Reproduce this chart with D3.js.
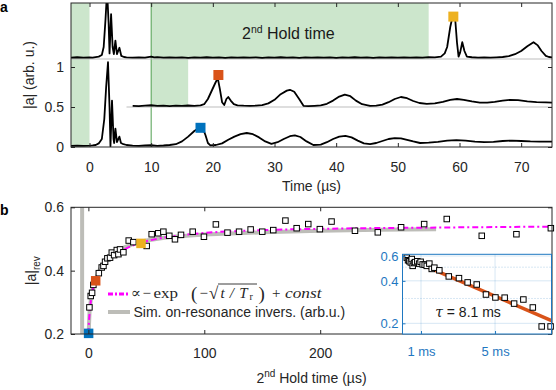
<!DOCTYPE html>
<html lang="en">
<head>
<meta charset="UTF-8">
<title>Revival amplitude vs 2nd hold time</title>
<script src="https://cdnjs.cloudflare.com/ajax/libs/d3/7.8.5/d3.min.js"></script>
<style>
  body { margin: 0; background: #fff; }
  svg { display: block; font-family: "Liberation Sans", Arial, sans-serif; }
  .math { font-family: "Liberation Serif", "DejaVu Serif", serif; font-size: 15px; fill: #262626; }
</style>
</head>
<body>
<svg id="chart" width="556" height="390"></svg>
<script>
// ---------- panel a data: echo traces [time (µs), |a|] ----------
const traceTop = [[-3,1.118],[-2,1.122],[-1,1.116],[0,1.121],[0.5,1.117],[1,1.124],[1.5,1.13],[2,1.15],[2.3,1.25],[2.6,1.6],[2.85,1.95],[3.1,1.55],[3.25,1.17],[3.5,1.66],[3.75,1.25],[3.95,1.16],[4.2,1.33],[4.45,1.16],[4.85,1.24],[5.15,1.14],[5.6,1.125],[6,1.12],[7,1.117],[8,1.121],[9,1.116],[10,1.13],[10.5,1.12],[11,1.123],[12,1.117],[13,1.121],[14,1.116],[15,1.12],[16,1.115],[17,1.121],[18,1.117],[19,1.122],[20,1.116],[21,1.12],[22,1.115],[23,1.121],[24,1.117],[25,1.12],[26,1.116],[27,1.121],[28,1.115],[29,1.12],[30,1.117],[31,1.122],[32,1.116],[33,1.12],[34,1.115],[35,1.121],[36,1.117],[37,1.12],[38,1.116],[39,1.121],[40,1.115],[41,1.12],[42,1.117],[43,1.122],[44,1.116],[45,1.12],[46,1.115],[47,1.121],[48,1.117],[49,1.12],[50,1.116],[51,1.121],[52,1.117],[53,1.12],[54,1.118],[55,1.123],[56,1.12],[57,1.13],[57.6,1.17],[58,1.25],[58.5,1.5],[58.9,1.64],[59.3,1.6],[59.6,1.3],[59.85,1.13],[60.1,1.18],[60.45,1.31],[60.8,1.2],[61.2,1.13],[62,1.122],[63,1.118],[64,1.12],[65,1.117],[66,1.121],[67,1.125],[68,1.135],[69,1.16],[70,1.2],[71,1.26],[72,1.31],[72.7,1.27],[73.3,1.2],[74,1.14],[74.5,1.125],[75,1.12]];
const traceMid = [[7,0.515],[8,0.512],[9,0.517],[10,0.522],[11,0.514],[12,0.518],[13,0.512],[14,0.517],[15,0.513],[16,0.519],[17,0.515],[18,0.52],[18.6,0.535],[19.2,0.6],[19.8,0.7],[20.4,0.8],[20.8,0.86],[21.15,0.72],[21.5,0.56],[21.85,0.525],[22.2,0.6],[22.5,0.625],[22.9,0.58],[23.4,0.535],[24,0.52],[25,0.516],[26,0.514],[27,0.518],[28,0.524],[29,0.545],[30,0.59],[31,0.66],[32,0.705],[32.5,0.715],[33.2,0.69],[34,0.6],[34.7,0.515],[35.5,0.51],[36.5,0.515],[37.5,0.52],[38.5,0.54],[39.5,0.58],[40.5,0.63],[41.4,0.655],[42.3,0.635],[43.2,0.58],[44.2,0.535],[45.5,0.515],[46.5,0.518],[47.5,0.53],[48.5,0.56],[49.5,0.6],[50.5,0.625],[51.5,0.61],[52.5,0.575],[53.5,0.55],[54.7,0.54],[56,0.545],[57.3,0.565],[58.5,0.59],[59.6,0.6],[60.7,0.59],[62,0.57],[63.3,0.555],[64.5,0.555],[65.7,0.565],[67,0.58],[68.2,0.59],[69.5,0.585],[71,0.57],[72.5,0.56],[74,0.557],[75,0.555]];
const traceBottom = [[-3,0.015],[-2,0.018],[-1,0.013],[0,0.017],[0.5,0.02],[1,0.025],[1.5,0.045],[2,0.1],[2.4,0.35],[2.7,0.75],[3.0,1.06],[3.25,0.5],[3.4,0.01],[3.65,0.58],[3.9,0.1],[4.0,0.05],[4.2,0.23],[4.45,0.06],[4.85,0.13],[5.1,0.05],[5.5,0.035],[6,0.025],[7,0.018],[8,0.014],[9,0.019],[10,0.022],[11,0.015],[12,0.019],[13,0.025],[14,0.035],[15,0.07],[16,0.13],[17,0.2],[17.6,0.23],[18.4,0.23],[18.8,0.15],[19.2,0.05],[19.6,0.02],[20.5,0.025],[21.5,0.045],[22.5,0.09],[23.5,0.13],[24.5,0.16],[25.5,0.175],[26.5,0.16],[27.5,0.12],[28.5,0.07],[29.5,0.04],[30.5,0.06],[31.5,0.1],[32.5,0.135],[33.3,0.146],[34.2,0.125],[35.2,0.07],[36.3,0.025],[37.5,0.03],[38.5,0.06],[39.5,0.1],[40.5,0.13],[41.5,0.14],[42.5,0.12],[43.5,0.08],[44.5,0.045],[45.5,0.035],[46.5,0.05],[47.5,0.075],[48.5,0.1],[49.5,0.11],[50.5,0.108],[51.5,0.09],[52.5,0.07],[53.6,0.05],[55,0.055],[56.5,0.065],[58,0.08],[59.5,0.087],[61,0.08],[62.5,0.068],[64,0.062],[65.5,0.065],[67,0.075],[68.5,0.08],[70,0.075],[71.5,0.07],[73,0.068],[75,0.066]];
const traceBaselines = [[-3, 75, 1.1], [6, 75, 0.5]];           // [from, to, level]
const holdShading = [[-3, 0, 0, 1.8], [10, 55, 1.1, 1.8], [10, 16, 0.5, 1.1]]; // [t0, t1, v0, v1]
const holdStart = 10;
const echoMarkers = [[18, 0.24, "#0072BD"], [20.9, 0.9, "#D95319"], [59, 1.63, "#EDB120"]];
const timeTicks = [0, 10, 20, 30, 40, 50, 60, 70];
const ampTicks = [0, 0.5, 1];

// ---------- panel b data ----------
const holdTime = [0.9, 2, 3.2, 4.3, 9, 11.5, 13, 14.4, 16.4, 18.7, 20.2, 22.2, 24.5, 25.9, 27.3, 30.2, 34.8, 38.8, 50.3, 54.6, 60.3, 64.7, 69.8, 74.7, 79.9, 90, 99.7, 110, 120, 130, 140, 150, 159.5, 170, 179.7, 189.7, 199.7, 209.8, 230, 249.7, 269.8, 289.7, 309.2, 339.4, 369.3, 399];
const ampRev = [0.284, 0.32, 0.33, 0.355, 0.392, 0.41, 0.415, 0.428, 0.439, 0.441, 0.457, 0.449, 0.465, 0.452, 0.467, 0.458, 0.495, 0.49, 0.478, 0.515, 0.518, 0.523, 0.51, 0.499, 0.513, 0.523, 0.507, 0.546, 0.52, 0.523, 0.53, 0.523, 0.528, 0.558, 0.534, 0.547, 0.531, 0.555, 0.526, 0.521, 0.537, 0.547, 0.563, 0.51, 0.515, 0.534];
const fitT = [0, 0.5, 1, 2, 3, 5, 7, 10, 15, 20, 25, 30, 40, 50, 60, 80, 100, 150, 200, 300, 400];
const fitV = [0.2, 0.24, 0.265, 0.3, 0.325, 0.355, 0.375, 0.4, 0.425, 0.443, 0.455, 0.465, 0.482, 0.493, 0.501, 0.512, 0.519, 0.528, 0.532, 0.536, 0.539];
const simT = [-5.4, -5.4, -1, 0.2, 1, 2, 3, 5, 7, 10, 15, 20, 30, 40, 50, 70, 100, 150, 200, 250, 300];
const simV = [0.7, 0.15, 0.15, 0.2, 0.27, 0.305, 0.33, 0.36, 0.38, 0.405, 0.432, 0.45, 0.472, 0.486, 0.495, 0.506, 0.514, 0.521, 0.526, 0.529, 0.531];
const revMarkers = [[0.2, 0.202, "#0072BD"], [6.3, 0.368, "#D95319"], [45.4, 0.486, "#EDB120"]];
const holdTicks = [0, 100, 200];
const revTicks = [0.2, 0.4, 0.6];

// inset: long hold times (ms), log amplitude
const insetT = [0.23, 0.3, 0.37, 0.45, 0.5, 0.55, 0.62, 0.68, 0.8, 0.9, 0.98, 1.09, 1.2, 1.31, 1.45, 1.58, 1.72, 1.99, 2.5, 3.05, 3.52, 4.01, 4.51, 5.02, 5.52, 6.03, 6.53, 7.04, 7.52, 8.0];
const insetV = [0.584, 0.56, 0.551, 0.54, 0.571, 0.511, 0.535, 0.543, 0.551, 0.53, 0.546, 0.523, 0.52, 0.511, 0.53, 0.486, 0.496, 0.475, 0.43, 0.418, 0.39, 0.377, 0.32, 0.305, 0.304, 0.276, 0.295, 0.259, 0.19, 0.19];
const insetFit = [[0.3, 0.575], [8.05, 0.209]];
const insetXTicks = [1, 5];
const insetYTicks = [0.2, 0.4, 0.6];
const insetMinor = [0.3, 0.5];

const ink = "#262626";
const insetBlue = "#1f78c1";
const svg = d3.select("#chart");

function styleAxis(g, color, size) {
    g.attr("font-size", size).attr("font-family", '"Liberation Sans", Arial, sans-serif');
    g.select(".domain").remove();
    g.selectAll("line").attr("stroke", color);
    g.selectAll("text").attr("fill", color);
}

// ================= panel a =================
const xA = d3.scaleLinear().domain([-3, 75]).range([71, 552]);
const yA = d3.scaleLinear().domain([0, 1.8]).range([147, 3]);

svg.append("clipPath").attr("id", "clipA").append("rect")
    .attr("x", 71).attr("y", 3).attr("width", 481).attr("height", 144);

const pa = svg.append("g").attr("clip-path", "url(#clipA)");

pa.selectAll("rect.shade").data(holdShading).join("rect")
    .attr("x", d => xA(d[0])).attr("width", d => xA(d[1]) - xA(d[0]))
    .attr("y", d => yA(d[3])).attr("height", d => yA(d[2]) - yA(d[3]))
    .attr("fill", "#cce6cc");

pa.append("line")
    .attr("x1", xA(holdStart)).attr("x2", xA(holdStart))
    .attr("y1", yA(1.8)).attr("y2", yA(0))
    .attr("stroke", "#4f9f4f").attr("stroke-width", 1);

pa.selectAll("line.base").data(traceBaselines).join("line")
    .attr("x1", d => xA(d[0])).attr("x2", d => xA(d[1]))
    .attr("y1", d => yA(d[2])).attr("y2", d => yA(d[2]))
    .attr("stroke", "#bdbdbd").attr("stroke-width", 1);

const lineA = d3.line().x(d => xA(d[0])).y(d => yA(d[1]));
[traceTop, traceMid, traceBottom].forEach(tr => {
    pa.append("path").attr("d", lineA(tr))
        .attr("fill", "none").attr("stroke", "#000")
        .attr("stroke-width", 1.8).attr("stroke-linejoin", "round");
});

svg.selectAll("rect.echo").data(echoMarkers).join("rect")
    .attr("x", d => xA(d[0]) - 5).attr("y", d => yA(d[1]) - 5)
    .attr("width", 10).attr("height", 10).attr("fill", d => d[2]);

// axes a
styleAxis(svg.append("g").attr("transform", "translate(0,147)")
    .call(d3.axisBottom(xA).tickValues(timeTicks).tickSize(-4).tickPadding(15)), ink, 14);
styleAxis(svg.append("g").attr("transform", "translate(0,3)")
    .call(d3.axisTop(xA).tickValues(timeTicks).tickSize(-4).tickFormat("")), ink, 14);
styleAxis(svg.append("g").attr("transform", "translate(71,0)")
    .call(d3.axisLeft(yA).tickValues(ampTicks).tickSize(-4).tickPadding(7).tickFormat(d3.format("~g"))), ink, 14);
styleAxis(svg.append("g").attr("transform", "translate(552,0)")
    .call(d3.axisRight(yA).tickValues(ampTicks).tickSize(-4).tickFormat("")), ink, 14);
svg.append("rect").attr("x", 71).attr("y", 3).attr("width", 481).attr("height", 144)
    .attr("fill", "none").attr("stroke", ink).attr("stroke-width", 1);

const holdLabel = svg.append("text").attr("x", 242).attr("y", 39).attr("font-size", 16).attr("fill", "#1a1a1a");
holdLabel.append("tspan").text("2");
holdLabel.append("tspan").attr("dy", -6).attr("font-size", 10.5).text("nd");
holdLabel.append("tspan").attr("dy", 6).text(" Hold time");

svg.append("text").attr("x", 311.5).attr("y", 191).attr("text-anchor", "middle")
    .attr("font-size", 14).attr("fill", ink).text("Time (µs)");
svg.append("text").attr("transform", "translate(34,75) rotate(-90)").attr("text-anchor", "middle")
    .attr("font-size", 14).attr("fill", ink).text("|a| (arb. u.)");
svg.append("text").attr("x", 0).attr("y", 12).attr("font-size", 14).attr("font-weight", "bold").text("a");

// ================= panel b =================
const xB = d3.scaleLinear().domain([-15, 400]).range([71, 552]);
const yB = d3.scaleLinear().domain([0.2, 0.6]).range([334, 207.3]);

svg.append("clipPath").attr("id", "clipB").append("rect")
    .attr("x", 71).attr("y", 207.3).attr("width", 481).attr("height", 126.7);
const pb = svg.append("g").attr("clip-path", "url(#clipB)");

pb.append("path")
    .attr("d", d3.line().x((d, i) => xB(simT[i])).y((d, i) => yB(simV[i]))(simT))
    .attr("fill", "none").attr("stroke", "#bdbdb8").attr("stroke-width", 4);
pb.append("path")
    .attr("d", d3.line().curve(d3.curveMonotoneX).x((d, i) => xB(fitT[i])).y((d, i) => yB(fitV[i]))(fitT))
    .attr("fill", "none").attr("stroke", "#ff00ff").attr("stroke-width", 2)
    .attr("stroke-dasharray", "6,3,2,3");

svg.selectAll("rect.rev").data(holdTime).join("rect")
    .attr("x", (d, i) => xB(d) - 2.75).attr("y", (d, i) => yB(ampRev[i]) - 2.75)
    .attr("width", 5.5).attr("height", 5.5)
    .attr("fill", "#fff").attr("stroke", "#000").attr("stroke-width", 1);

svg.selectAll("rect.revm").data(revMarkers).join("rect")
    .attr("x", d => xB(d[0]) - 4.75).attr("y", d => yB(d[1]) - 4.75)
    .attr("width", 9.5).attr("height", 9.5).attr("fill", d => d[2]);

styleAxis(svg.append("g").attr("transform", "translate(0,334)")
    .call(d3.axisBottom(xB).tickValues(holdTicks).tickSize(-4).tickPadding(14.5)), ink, 14);
styleAxis(svg.append("g").attr("transform", "translate(0,207.3)")
    .call(d3.axisTop(xB).tickValues(holdTicks).tickSize(-4).tickFormat("")), ink, 14);
styleAxis(svg.append("g").attr("transform", "translate(71,0)")
    .call(d3.axisLeft(yB).tickValues(revTicks).tickSize(-4).tickPadding(7).tickFormat(d3.format(".1f"))), ink, 14);
styleAxis(svg.append("g").attr("transform", "translate(552,0)")
    .call(d3.axisRight(yB).tickValues(revTicks).tickSize(-4).tickFormat("")), ink, 14);
svg.append("rect").attr("x", 71).attr("y", 207.3).attr("width", 481).attr("height", 126.7)
    .attr("fill", "none").attr("stroke", ink).attr("stroke-width", 1);

// legend
svg.append("line").attr("x1", 108).attr("x2", 130).attr("y1", 294).attr("y2", 294)
    .attr("stroke", "#ff00ff").attr("stroke-width", 3).attr("stroke-dasharray", "5,2,2,2");
svg.append("line").attr("x1", 108).attr("x2", 130).attr("y1", 312).attr("y2", 312)
    .attr("stroke", "#bdbdb8").attr("stroke-width", 4);
svg.append("text").attr("x", 133.5).attr("y", 316.5).attr("font-size", 14).attr("fill", ink)
    .text("Sim. on-resonance invers. (arb.u.)");

// legend formula, pieces placed where they sit in the figure
const mathY = 297.5;
const math = svg.append("g").attr("class", "math");
math.append("text").attr("x", 131).attr("y", mathY).text("∝");
math.append("text").attr("x", 142.5).attr("y", mathY).text("−");
math.append("text").attr("x", 153.5).attr("y", mathY).attr("textLength", 24.5).attr("lengthAdjust", "spacingAndGlyphs").text("exp");
math.append("text").attr("x", 191).attr("y", mathY + 2).attr("font-size", 19).text("(");
math.append("text").attr("x", 199.5).attr("y", mathY).text("−");
math.append("text").attr("x", 209).attr("y", mathY + 1.5).attr("font-size", 17).text("√");
math.append("line").attr("x1", 218).attr("x2", 257).attr("y1", 284).attr("y2", 284)
    .attr("stroke", ink).attr("stroke-width", 0.9);
math.append("text").attr("x", 220.5).attr("y", mathY).attr("font-style", "italic")
    .attr("textLength", 27).attr("lengthAdjust", "spacing").text("t/T");
math.append("text").attr("x", 249.5).attr("y", mathY + 2.5).attr("font-size", 10).text("r");
math.append("text").attr("x", 258.5).attr("y", mathY + 2).attr("font-size", 19).text(")");
math.append("text").attr("x", 272).attr("y", mathY).text("+");
math.append("text").attr("x", 285).attr("y", mathY).attr("font-style", "italic")
    .attr("textLength", 36.5).attr("lengthAdjust", "spacingAndGlyphs").text("const");

// inset
const xI = d3.scaleLinear().domain([0, 8.05]).range([402.5, 551.5]);
const yI = d3.scaleLog().domain([0.168, 0.617]).range([334, 254.3]);
svg.append("rect").attr("x", 402.5).attr("y", 254.3).attr("width", 149).attr("height", 79.7).attr("fill", "#fff");
const grid = svg.append("g");
grid.selectAll("line.gx").data(insetXTicks).join("line")
    .attr("x1", d => xI(d)).attr("x2", d => xI(d)).attr("y1", 254.3).attr("y2", 334)
    .attr("stroke", insetBlue).attr("stroke-opacity", 0.18);
grid.selectAll("line.gy").data(insetYTicks).join("line")
    .attr("x1", 402.5).attr("x2", 551.5).attr("y1", d => yI(d)).attr("y2", d => yI(d))
    .attr("stroke", insetBlue).attr("stroke-opacity", 0.18);
grid.selectAll("line.gm").data(insetMinor).join("line")
    .attr("x1", 402.5).attr("x2", 551.5).attr("y1", d => yI(d)).attr("y2", d => yI(d))
    .attr("stroke", insetBlue).attr("stroke-opacity", 0.35).attr("stroke-dasharray", "1,2");

svg.append("path").attr("d", d3.line().x(d => xI(d[0])).y(d => yI(d[1]))(insetFit))
    .attr("stroke", "#D95319").attr("stroke-width", 3.5).attr("fill", "none");
svg.selectAll("rect.ins").data(insetT).join("rect")
    .attr("x", d => xI(d) - 2.75).attr("y", (d, i) => yI(insetV[i]) - 2.75)
    .attr("width", 5.5).attr("height", 5.5)
    .attr("fill", "#fff").attr("stroke", "#000").attr("stroke-width", 1);

styleAxis(svg.append("g").attr("transform", "translate(0,334)")
    .call(d3.axisBottom(xI).tickValues(insetXTicks).tickSize(-3).tickPadding(13).tickFormat(d => d + " ms")), insetBlue, 13);
styleAxis(svg.append("g").attr("transform", "translate(402.5,0)")
    .call(d3.axisLeft(yI).tickValues(insetYTicks).tickSize(-3).tickPadding(4).tickFormat(d3.format(".1f"))), insetBlue, 13);
svg.append("rect").attr("x", 402.5).attr("y", 254.3).attr("width", 149).attr("height", 79.7)
    .attr("fill", "none").attr("stroke", insetBlue).attr("stroke-width", 1);
svg.append("text").attr("x", 468).attr("y", 316.5).attr("text-anchor", "middle")
    .attr("font-size", 14).attr("fill", "#1a1a1a")
    .html('<tspan font-family="DejaVu Serif, serif" font-style="italic">τ</tspan> = 8.1 ms');

const revLabel = svg.append("text").attr("transform", "translate(36,270.7) rotate(-90)")
    .attr("text-anchor", "middle").attr("font-size", 14).attr("fill", ink);
revLabel.append("tspan").text("|a|");
revLabel.append("tspan").attr("font-size", 10).attr("dy", 4).text("rev");

const holdX = svg.append("text").attr("x", 311.5).attr("y", 383).attr("text-anchor", "middle")
    .attr("font-size", 14).attr("fill", ink);
holdX.append("tspan").text("2");
holdX.append("tspan").attr("dy", -6).attr("font-size", 10).text("nd");
holdX.append("tspan").attr("dy", 6).text(" Hold time (µs)");

svg.append("text").attr("x", 0).attr("y", 215).attr("font-size", 14).attr("font-weight", "bold").text("b");
</script>
</body>
</html>
